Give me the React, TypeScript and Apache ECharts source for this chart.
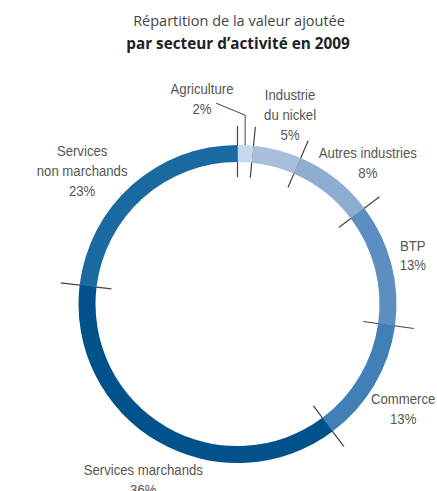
import React, { useEffect, useRef } from "react";
import * as echarts from "echarts";

// ---- data ----
const categories = [
  "Agriculture",
  "Industrie\ndu nickel",
  "Autres industries",
  "BTP",
  "Commerce",
  "Services marchands",
  "Services\nnon marchands",
];
// shares as drawn on the ring (%)
const values = [1.6, 4.9, 8.2, 12.5, 12.6, 37.1, 23.1];
// shares as printed on the labels (%)
const shownPercent = [2, 5, 8, 13, 13, 36, 23];
const titleLine1 = "Répartition de la valeur ajoutée";
const titleLine2 = "par secteur d’activité en 2009";

// ---- styles / layout ----
const colors = ["#c8d7ea", "#a8bfdc", "#8fadd3", "#5d8ec1", "#4180b7", "#00528b", "#1b69a1"];
const CX = 237.5;
const CY = 304;
const R_IN = 142;
const R_OUT = 159;
const SEP_IN = 127;
const SEP_OUT = 178;
const labelRadius = [208, 197, 192, 182, 196, 199, 205];
const labelShift = [-12.7, 0.9, 4.6, -1, 1.7, -1.8, -7.7];
const labelFont = "'Liberation Sans', Arial, sans-serif";
const titleFont = "'Open Sans', 'Noto Sans', sans-serif";

export default function App() {
  const ref = useRef<HTMLDivElement>(null);

  useEffect(() => {
    document.body.style.margin = "0";
    if (!ref.current) return;
    const chart = echarts.init(ref.current, undefined, { renderer: "svg" });

    const total = values.reduce((a, b) => a + b, 0);
    const cumulative: number[] = [];
    let acc = 0;
    values.forEach((v) => {
      cumulative.push((acc / total) * 100);
      acc += v;
    });
    const midPct = values.map((v, i) => cumulative[i] + ((v / total) * 100) / 2);

    const labelGraphics = categories.map((c, i) => {
      const a = ((midPct[i] / 100) * 360 + labelShift[i]) * (Math.PI / 180);
      return {
        type: "text",
        x: CX + labelRadius[i] * Math.sin(a),
        y: CY - labelRadius[i] * Math.cos(a),
        scaleX: 0.85,
        silent: true,
        style: {
          text: `${c}\n${shownPercent[i]}%`,
          fontFamily: labelFont,
          fontSize: 15.5,
          lineHeight: 20,
          fill: "#555",
          textAlign: "center",
          textVerticalAlign: "middle",
        },
      };
    });

    chart.setOption({
      animation: false,
      polar: { center: [CX, CY], radius: [0, SEP_OUT] },
      radiusAxis: { min: 0, max: SEP_OUT, show: false },
      angleAxis: { type: "value", min: 0, max: 100, startAngle: 90, clockwise: true, show: false },
      graphic: [
        {
          type: "text",
          x: 239,
          y: 20,
          style: {
            text: titleLine1,
            fontFamily: titleFont,
            fontSize: 14.5,
            fill: "#444",
            textAlign: "center",
            textVerticalAlign: "middle",
          },
        },
        {
          type: "text",
          x: 238,
          y: 43,
          style: {
            text: titleLine2,
            fontFamily: titleFont,
            fontSize: 15.3,
            fontWeight: "bold",
            fill: "#222",
            textAlign: "center",
            textVerticalAlign: "middle",
          },
        },
        ...labelGraphics,
      ],
      series: [
        {
          type: "pie",
          center: [CX, CY],
          radius: [R_IN, R_OUT],
          startAngle: 90,
          clockwise: true,
          silent: true,
          itemStyle: { borderWidth: 0 },
          data: categories.map((c, i) => ({ name: c, value: values[i], itemStyle: { color: colors[i] } })),
          label: { show: false },
          labelLine: { show: false },
        },
        {
          type: "custom",
          coordinateSystem: "polar",
          silent: true,
          encode: { radius: 0, angle: 1 },
          data: cumulative.map((b) => [SEP_OUT, b]),
          renderItem: (params: any, api: any) => {
            const b = api.value(1);
            const p1 = api.coord([SEP_IN, b]);
            const p2 = api.coord([SEP_OUT, b]);
            return {
              type: "line",
              shape: { x1: p1[0], y1: p1[1], x2: p2[0], y2: p2[1] },
              style: { stroke: "#444", lineWidth: 1.2 },
            };
          },
        },
        {
          type: "custom",
          coordinateSystem: "polar",
          silent: true,
          encode: { radius: 0, angle: 1 },
          data: [[152, midPct[0]]],
          renderItem: (params: any, api: any) => {
            const p0 = api.coord([api.value(0), api.value(1)]);
            return {
              type: "polyline",
              shape: {
                points: [
                  [p0[0], p0[1]],
                  [p0[0], p0[1] - 37],
                  [p0[0] - 29, p0[1] - 49],
                ],
              },
              style: { stroke: "#444", lineWidth: 1, fill: "none" },
            };
          },
        },
      ],
    });

    return () => chart.dispose();
  }, []);

  return <div ref={ref} style={{ width: 437, height: 491 }} />;
}
